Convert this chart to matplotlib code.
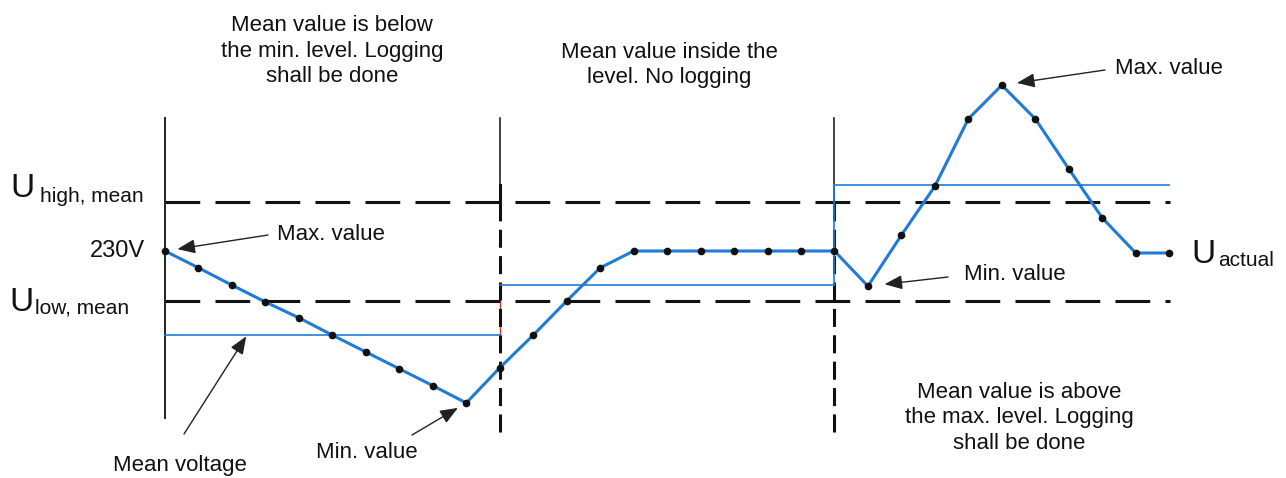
import numpy as np
import matplotlib
matplotlib.use('Agg')
from matplotlib import pyplot as plt

plt.rcParams['font.family'] = ['Liberation Sans', 'DejaVu Sans']
plt.rcParams['lines.scale_dashes'] = False

# Sampled voltage (one value per sample step)
sample = np.arange(31)
u_actual = [230.0, 226.6, 223.1, 219.7, 216.5, 213.0, 209.6, 206.2, 202.8, 199.3,
            206.4, 213.0, 219.9, 226.6, 230.0, 230.0, 230.0, 230.0, 230.0, 230.0,
            230.0, 222.9, 233.2, 243.1, 256.7, 263.5, 256.7, 246.6, 236.7, 229.6, 229.6]

# Averaging windows and their mean values
window_start = [0, 10, 20]
window_end = [10, 20, 30]
u_mean = [213.0, 223.1, 243.3]

# Limits
u_high = 240.0
u_low = 220.0

# Annotation labels
window_notes = ["Mean value is below\nthe min. level. Logging\nshall be done",
                "Mean value inside the\nlevel. No logging",
                "Mean value is above\nthe max. level. Logging\nshall be done"]

BLUE = '#1f7bd6'
INK = '#111111'
FS = 16

fig = plt.figure(figsize=(12.86, 4.78), dpi=100)
ax = fig.add_axes([0, 0, 1, 1])
ax.set_xlim(-4.93, 33.49)
ax.set_ylim(184.14, 280.71)
ax.axis('off')

# overlay in pixel units, used only to place text
ov = fig.add_axes([0, 0, 1, 1])
ov.set_xlim(0, 1286)
ov.set_ylim(478, 0)
ov.axis('off')
ov.patch.set_alpha(0)

# limit lines
for level in (u_high, u_low):
    ax.plot([0, 30.03], [level, level], color=INK, lw=2.2,
            dashes=(25, 11), solid_capstyle='butt', dash_capstyle='butt', zorder=1)

# window boundaries
ax.plot([0, 0], [196.3, 256.9], color='#222222', lw=1.4, zorder=1)
for start in window_start[1:]:
    ax.plot([start, start], [240.0, 256.9], color='#222222', lw=1.2, zorder=1)
ax.plot([10, 10], [240.0, 243.3], color=INK, lw=2.2, zorder=1)
ax.plot([10, 10], [u_mean[0], u_mean[1]], color='#e03020', lw=1.0, zorder=0.5)
ax.plot([10, 10], [193.4, 240.0], color=INK, lw=2.2, dashes=(13, 6), zorder=1)
ax.plot([20, 20], [193.4, 240.0], color=INK, lw=2.2, dashes=(13, 6), zorder=1)

# mean values per window
for k in range(len(u_mean)):
    ax.plot([window_start[k], window_end[k]], [u_mean[k], u_mean[k]],
            color=BLUE, lw=1.2, zorder=2)
ax.plot([20, 20], [u_mean[1], u_mean[2]], color=BLUE, lw=1.2, zorder=2)

# actual voltage
ax.plot(sample, u_actual, color=BLUE, lw=2.2, zorder=3)
ax.plot(sample, u_actual, 'o', color=INK, ms=4.5, zorder=4)

# left labels
ov.text(10, 197, 'U', fontsize=24, color=INK, ha='left', va='baseline')
ov.text(40, 202, 'high, mean', fontsize=15, color=INK, ha='left', va='baseline')
ov.text(145, 251, '230V', fontsize=17, color=INK, ha='right', va='center')
ov.text(9, 311, 'U', fontsize=24, color=INK, ha='left', va='baseline')
ov.text(35, 314, 'low, mean', fontsize=15, color=INK, ha='left', va='baseline')
ov.text(1191, 263, 'U', fontsize=24, color=INK, ha='left', va='baseline')
ov.text(1218, 266, 'actual', fontsize=15, color=INK, ha='left', va='baseline')

# window notes
note_pos = [(332, 51), (669, 65), (1019, 418)]
for note, (nx, ny) in zip(window_notes, note_pos):
    ov.text(nx, ny, note, fontsize=FS, color=INK, ha='center', va='center',
            linespacing=1.3)

arrow = dict(arrowstyle='-|>,head_length=0.6,head_width=0.24', mutation_scale=18,
             lw=1.0, color='#222222', shrinkA=0)


def callout(label, xy, tail, text_xy, shrink, ha='left'):
    ax.annotate('', xy=xy, xycoords='data', xytext=tail, textcoords=ov.transData,
                arrowprops=dict(arrow, shrinkB=shrink), zorder=5)
    ov.text(text_xy[0], text_xy[1], label, fontsize=FS, color=INK,
            ha=ha, va='center')


i_max = int(np.argmax(u_actual))
i_min1 = int(np.argmin(u_actual[:10]))
i_min3 = 20 + int(np.argmin(u_actual[20:24]))
callout('Max. value', (0, u_actual[0]), (268, 235), (277, 234), 9)
callout('Min. value', (i_min1, u_actual[i_min1]), (412, 435), (316, 452), 7)
callout('Mean voltage', (2.45, u_mean[0]), (184, 434), (113, 465), 1)
callout('Min. value', (i_min3, u_actual[i_min3]), (948, 277), (964, 274), 12)
callout('Max. value', (i_max, u_actual[i_max]), (1105, 70), (1115, 68), 11)

fig.savefig('out.png', dpi=100, facecolor='white')
